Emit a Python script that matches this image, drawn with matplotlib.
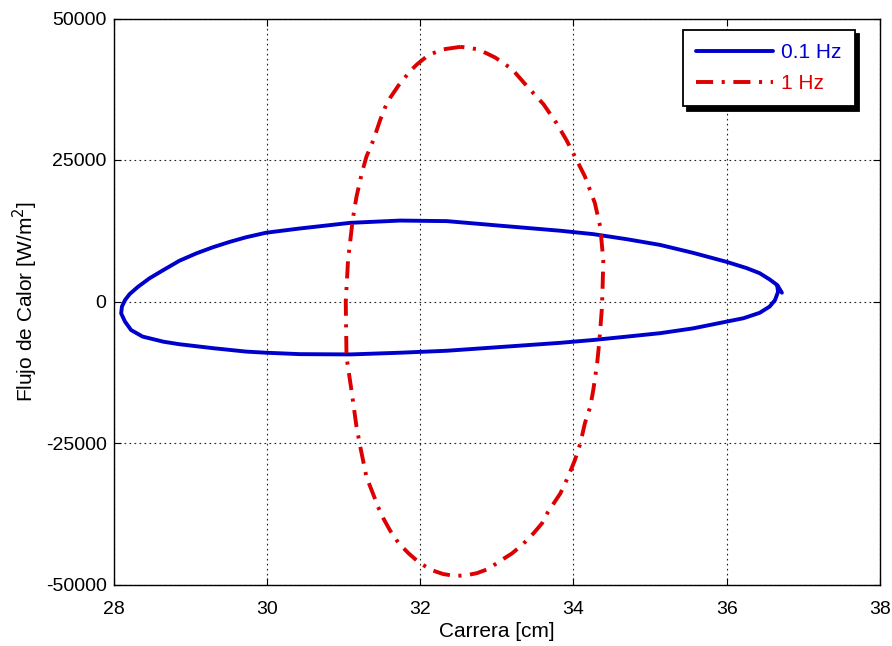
import matplotlib
matplotlib.use("Agg")
from matplotlib import pyplot as plt

# curva 0.1 Hz (lazo azul)
carrera_01 = [36.72, 36.66, 36.56, 36.43, 36.26, 36.00, 35.56, 35.13, 34.70, 34.26,
              33.83, 33.04, 32.35, 31.74, 31.09, 30.43, 29.99, 29.73, 29.52, 29.30,
              29.08, 28.86, 28.65, 28.47, 28.32, 28.21, 28.15, 28.11, 28.10, 28.15,
              28.23, 28.38, 28.65, 28.86, 29.30, 29.73, 29.99, 30.43, 31.09, 31.74,
              32.35, 33.04, 33.83, 34.26, 34.70, 35.13, 35.56, 36.00, 36.22, 36.43,
              36.56, 36.63, 36.67, 36.66]
flujo_01 = [1550, 2900, 3900, 5000, 5900, 7000, 8600, 10000, 11000, 11900,
            12500, 13400, 14200, 14300, 13900, 12900, 12150, 11350, 10550, 9600,
            8500, 7200, 5550, 4100, 2600, 1300, 250, -900, -2100, -3550,
            -5050, -6200, -7100, -7550, -8250, -8850, -9050, -9300, -9350, -9050,
            -8700, -8050, -7300, -6800, -6200, -5600, -4750, -3550, -2950, -2000,
            -900, 250, 1700, 2740]

# curva 1 Hz (elipse roja)
carrera_1 = [32.53, 32.30, 32.11, 31.96, 31.87, 31.72, 31.61, 31.54, 31.48, 31.39,
             31.30, 31.24, 31.17, 31.12, 31.06, 31.03, 31.04, 31.11, 31.17, 31.22,
             31.30, 31.41, 31.45, 31.52, 31.61, 31.72, 31.85, 31.99, 32.15, 32.30,
             32.46, 32.61, 32.74, 32.89, 33.06, 33.20, 33.34, 33.48, 33.59, 33.67,
             33.83, 33.93, 34.02, 34.09, 34.15, 34.22, 34.26, 34.31, 34.34, 34.37,
             34.38, 34.39, 34.35, 34.28, 34.15, 34.02, 33.91, 33.78, 33.61, 33.41,
             33.20, 32.98, 32.76, 32.53]
flujo_1 = [45000, 44550, 43550, 41900, 40700, 38200, 36000, 34200, 32100, 28500,
           25600, 22700, 18500, 14400, 7300, -100, -9800, -16200, -22100, -25700,
           -31000, -34800, -36250, -38300, -40500, -42700, -44500, -46150, -47450, -48150,
           -48500, -48350, -48000, -47250, -45700, -44500, -42900, -40950, -39200, -37150,
           -33900, -31000, -28000, -25100, -21500, -18600, -15600, -10900, -6800, -1500,
           2000, 7300, 13200, 17400, 22100, 25600, 28500, 31500, 34850, 37800,
           41050, 43100, 44550, 45000]

etiquetas = ["0.1 Hz", "1 Hz"]
x_ticks = [28, 30, 32, 34, 36, 38]
y_ticks = [-50000, -25000, 0, 25000, 50000]

azul = "#0000cc"
rojo = "#dd0000"

plt.rcParams["font.family"] = ["Liberation Sans", "DejaVu Sans"]
plt.rcParams["font.size"] = 14
plt.rcParams["axes.unicode_minus"] = False

fig = plt.figure(figsize=(8.92, 6.46), dpi=100)
ax = fig.add_axes([113.5 / 892, 1 - 584.5 / 646, 766.5 / 892, 566 / 646])

ax.plot(carrera_01, flujo_01, color=azul, lw=2.8, label=etiquetas[0],
        solid_joinstyle="round", solid_capstyle="round")
ax.plot(carrera_1, flujo_1, color=rojo, lw=2.8, label=etiquetas[1],
        linestyle=(0, (4.4, 2.2, 0.8, 2.2)))

ax.set_xlim(28, 38)
ax.set_ylim(-50000, 50000)
ax.set_xticks(x_ticks)
ax.set_yticks(y_ticks)
ax.tick_params(direction="in", length=5, top=True, right=True, labelsize=14, pad=5)
ax.tick_params(axis="x", pad=12)
ax.grid(True, color="#222222", linestyle=(0, (1.5, 3)), lw=0.8)
for s in ax.spines.values():
    s.set_linewidth(1.0)

ax.set_xlabel("Carrera [cm]", fontsize=15, labelpad=3)
ax.set_ylabel("Flujo de Calor [W/m$^2$]", fontsize=15, labelpad=4)

leg = ax.legend(loc="upper right", bbox_to_anchor=(0.967, 0.98), borderaxespad=0,
                fancybox=False, edgecolor="black", framealpha=1, fontsize=15,
                handlelength=3.7, handletextpad=0.35, labelspacing=0.55,
                borderpad=0.65,
                shadow={"color": "black", "alpha": 1, "ox": 3, "oy": -3})
leg.get_frame().set_linewidth(1.3)
for t, c in zip(leg.get_texts(), [azul, rojo]):
    t.set_color(c)

fig.savefig("out.png", dpi=100)
